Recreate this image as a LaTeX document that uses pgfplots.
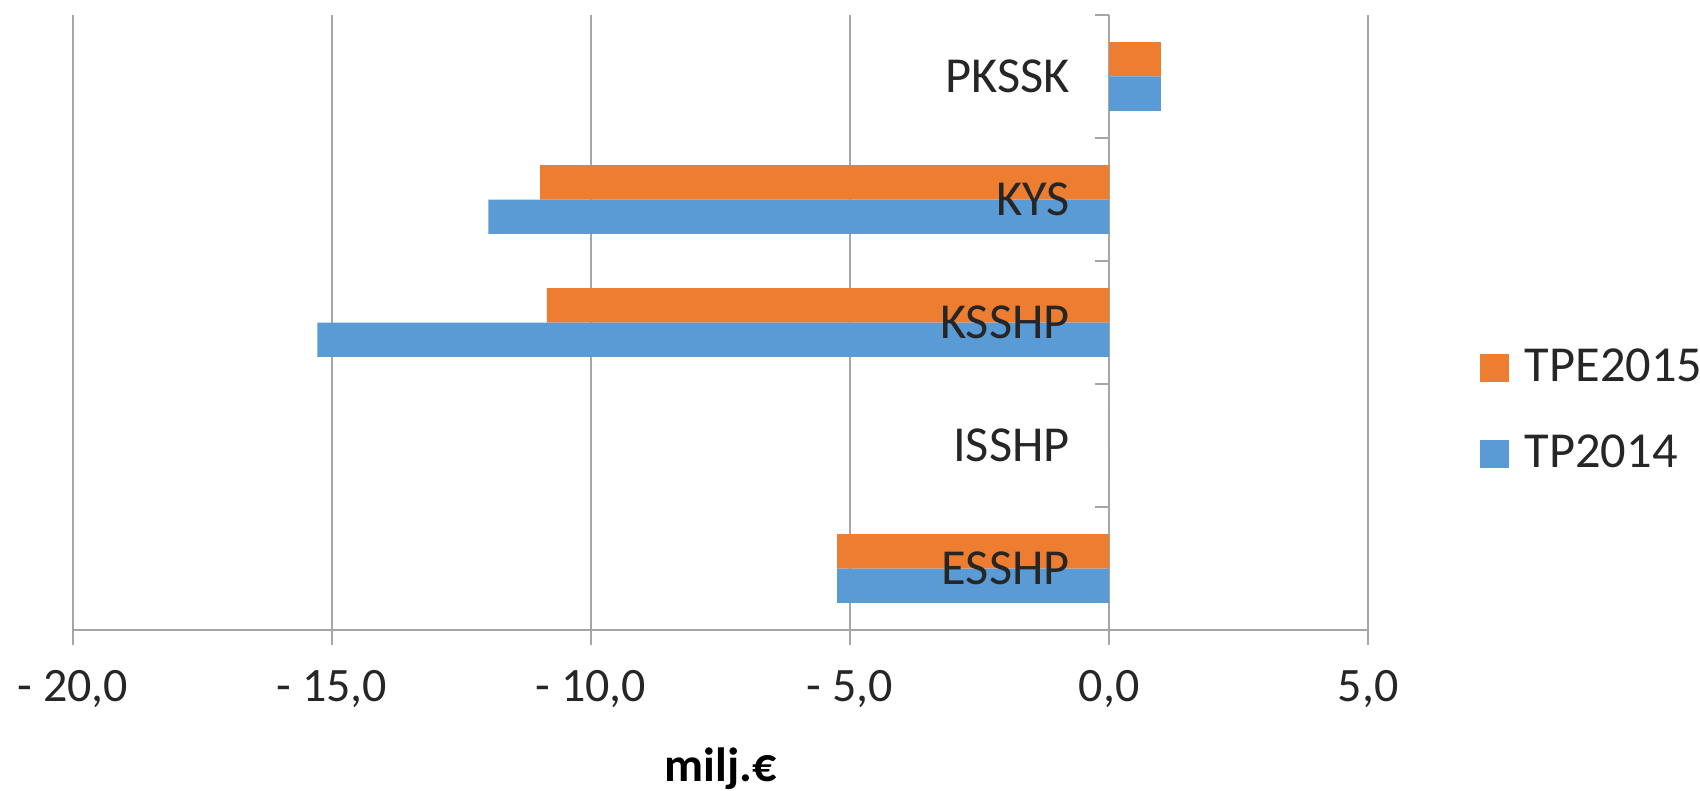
\documentclass[border=0pt]{standalone}
\usepackage{fontspec}
\setmainfont{Carlito}
\usepackage{pgfplots}
\pgfplotsset{compat=1.18}
\definecolor{cblue}{HTML}{5B9BD5}
\definecolor{corange}{HTML}{ED7D31}
\definecolor{gridgray}{RGB}{166,166,166}
\newcommand\cf{\fontsize{12}{14.4}\selectfont}
\newcommand\cl{\fontsize{12.6}{15}\selectfont}
\pgfplotsset{
  common/.style={
    scale only axis,
    width=323.75pt, height=153.75pt,
    xmin=-20, xmax=5, ymin=-0.5, ymax=4.5,
  },
}
\begin{document}
\begin{tikzpicture}
\begin{axis}[
  common,
  axis x line=bottom, axis y line=middle,
  axis line style={-, draw=gridgray, line width=0.6pt},
  every inner y axis line/.append style={-},
  every outer x axis line/.append style={-},
  xtick={-20,-15,-10,-5,0,5},
  xticklabels={{- 20,0},{- 15,0},{- 10,0},{- 5,0},{0,0},{5,0}},
  xmajorgrids,
  grid style={draw=gridgray, line width=0.6pt},
  tick align=outside,
  x tick style={draw=gridgray, line width=0.6pt},
  major tick length=3.75pt,
  ytick=\empty,
  xticklabel style={yshift=-2.7pt, font=\cf, text=black!85},
  xlabel={milj.€},
  xlabel style={at={(axis description cs:0.5,0)}, anchor=center, yshift=-34.6pt, font=\cf\bfseries},
  xbar, bar width=0.28,
  legend style={draw=none, at={(axis description cs:1.0888,0.356)}, xshift=-4pt, anchor=west, font=\cl, row sep=7.9pt, text=black!85,
    /tikz/every odd column/.append style={column sep=2pt}},
  legend cell align=left,
  legend image code/.code={\fill[#1] (0pt,-3.5pt) rectangle (7.25pt,3.5pt);},
]
\addplot[fill=corange, draw=none, bar shift=0.14] coordinates {(-5.25,0) (0,1) (-10.85,2) (-10.98,3) (1.0,4)};
\addlegendentry{TPE2015}
\addplot[fill=cblue, draw=none, bar shift=-0.14] coordinates {(-5.25,0) (0,1) (-15.28,2) (-11.98,3) (1.0,4)};
\addlegendentry{TP2014}
\draw[gridgray, line width=0.6pt] (axis cs:0,0.5) -- ([xshift=-3.5pt]axis cs:0,0.5);
\draw[gridgray, line width=0.6pt] (axis cs:0,1.5) -- ([xshift=-3.5pt]axis cs:0,1.5);
\draw[gridgray, line width=0.6pt] (axis cs:0,2.5) -- ([xshift=-3.5pt]axis cs:0,2.5);
\draw[gridgray, line width=0.6pt] (axis cs:0,3.5) -- ([xshift=-3.5pt]axis cs:0,3.5);
\draw[gridgray, line width=0.6pt] (axis cs:0,4.5) -- ([xshift=-3.5pt]axis cs:0,4.5);
\end{axis}
\begin{axis}[
  common,
  axis x line=none, axis y line=middle,
  axis line style={draw=none},
  every inner y axis line/.append style={-, draw=none},
  tick align=outside,
  major tick length=3.75pt,
  ytick={0,1,2,3,4},
  yticklabels={ESSHP,ISSHP,KSSHP,KYS,PKSSK},
  y tick style={draw=none},
  yticklabel style={anchor=east, inner sep=0pt, xshift=-5.9pt, font=\cl, text=black!85},
]
\end{axis}
\pgfresetboundingbox
\useasboundingbox (-18.25pt,-40.25pt) rectangle (406.75pt,157.5pt);
\end{tikzpicture}
\end{document}
